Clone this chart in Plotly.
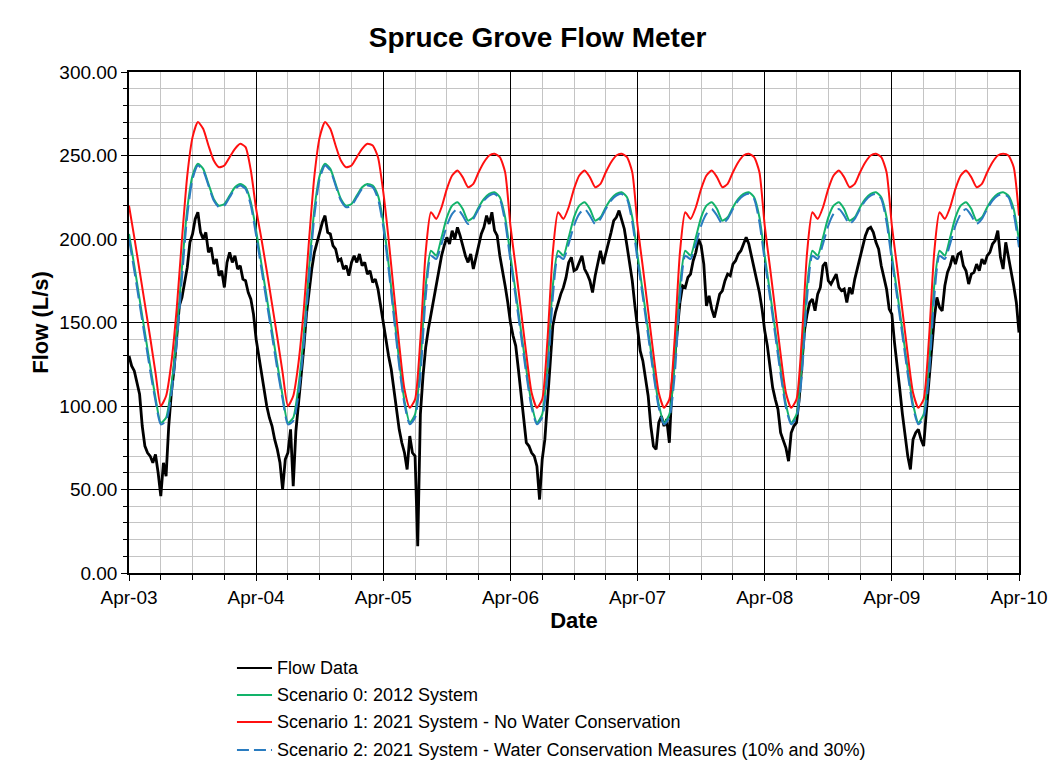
import pandas as pd
import plotly.graph_objects as go

# ---------------- data ----------------
title = "Spruce Grove Flow Meter"
start_date = "2013-04-03 00:00"
end_date = "2013-04-10 00:00"
tick_labels_fmt = "%b-%d"
series_names = [
    "Flow Data",
    "Scenario 0: 2012 System",
    "Scenario 1: 2021 System - No Water Conservation",
    "Scenario 2: 2021 System - Water Conservation Measures (10% and 30%)",
]

# Flow data, every 30 minutes (L/s)
flow_d1 = [130, 124, 121, 114, 107, 88, 76, 72, 70, 66, 71, 60, 46, 66, 58, 88, 108, 122, 140, 160, 165, 174, 183, 198,
           203, 212, 216, 204, 200, 204, 192, 195, 185, 188, 178, 181, 171, 186, 192, 186, 190, 182, 184, 176, 175, 168, 164, 155]
flow_d2 = [140, 130, 120, 112, 100, 93, 88, 80, 74, 66, 50, 68, 72, 86, 52, 85, 102, 116, 135, 155, 170, 182, 192, 198,
           205, 210, 214, 204, 203, 196, 194, 187, 188, 182, 184, 178, 186, 190, 186, 191, 184, 186, 179, 181, 174, 176, 170, 160]
flow_d3 = [148, 140, 130, 122, 110, 100, 86, 78, 72, 62, 82, 72, 70, 16, 95, 118, 135, 146, 155, 165, 172, 182, 190, 196,
           201, 197, 205, 200, 207, 202, 196, 190, 186, 191, 182, 189, 195, 203, 207, 214, 209, 216, 205, 202, 190, 182, 172, 162]
flow_d4 = [150, 142, 136, 122, 108, 95, 78, 76, 72, 70, 64, 44, 68, 80, 105, 128, 148, 156, 162, 167, 171, 177, 186, 189,
           181, 182, 186, 190, 182, 179, 175, 168, 178, 186, 193, 185, 191, 198, 204, 211, 213, 217, 211, 206, 196, 186, 175, 160]
flow_d5 = [145, 133, 127, 116, 106, 88, 76, 74, 90, 94, 88, 92, 78, 112, 130, 144, 162, 172, 171, 177, 179, 187, 192, 200,
           196, 185, 160, 166, 158, 153, 160, 167, 169, 175, 179, 178, 185, 187, 191, 193, 197, 201, 197, 190, 182, 176, 168, 158]
flow_d6 = [145, 136, 125, 111, 104, 98, 84, 80, 75, 67, 84, 88, 90, 104, 125, 145, 155, 162, 164, 157, 167, 171, 184, 186,
           175, 173, 176, 179, 171, 169, 170, 162, 171, 167, 176, 183, 189, 197, 202, 206, 207, 204, 198, 194, 184, 177, 170, 158]
flow_d7 = [155, 138, 122, 110, 95, 82, 70, 62, 80, 84, 86, 80, 76, 96, 115, 134, 152, 165, 159, 157, 172, 180, 184, 190,
           185, 191, 192, 184, 181, 173, 179, 180, 185, 181, 188, 185, 190, 192, 197, 199, 205, 189, 182, 198, 190, 181, 172, 162]
flow_end = [144]

# Scenario 0 (green), hourly
s0_d1 = [203, 184, 164, 144, 124, 105, 90, 93, 112, 143, 183, 218, 238, 245, 242, 233, 224, 220, 221, 226, 231, 233, 231, 222]
s0_d2 = [205, 185, 165, 145, 125, 106, 90, 93, 112, 143, 183, 218, 238, 245, 242, 233, 224, 220, 221, 226, 231, 233, 232, 226]
s0_d3 = [210, 185, 156, 127, 103, 90, 95, 125, 172, 193, 190, 201, 213, 220, 222, 218, 211, 213, 219, 224, 227, 228, 225, 213]
s0_d4 = [190, 168, 145, 122, 101, 90, 95, 125, 172, 193, 190, 201, 213, 220, 222, 218, 211, 213, 219, 224, 227, 228, 225, 213]
s0_d5 = [190, 168, 145, 122, 101, 90, 95, 125, 172, 193, 190, 201, 213, 220, 222, 218, 211, 213, 219, 224, 227, 228, 225, 213]
s0_d6 = [190, 168, 145, 122, 101, 90, 95, 125, 172, 193, 190, 201, 213, 220, 222, 218, 211, 213, 219, 224, 227, 228, 225, 213]
s0_d7 = [190, 168, 145, 122, 101, 90, 95, 125, 172, 193, 190, 201, 213, 220, 222, 218, 211, 213, 219, 224, 227, 228, 226, 218]
s0_end = [199]

# Scenario 1 (red), hourly
s1_d1 = [220, 201, 181, 161, 141, 120, 100, 106, 126, 158, 200, 238, 261, 270, 266, 256, 247, 243, 244, 249, 254, 257, 255, 241]
s1_d2 = [218, 200, 181, 161, 141, 120, 100, 106, 126, 158, 200, 238, 261, 270, 266, 256, 247, 243, 244, 249, 254, 257, 256, 249]
s1_d3 = [228, 200, 168, 137, 110, 99, 104, 140, 192, 216, 212, 219, 230, 238, 241, 237, 231, 233, 240, 246, 250, 251, 249, 240]
s1_d4 = [208, 183, 157, 131, 108, 99, 104, 140, 192, 216, 212, 219, 230, 238, 241, 237, 231, 233, 240, 246, 250, 251, 249, 240]
s1_d5 = [208, 183, 157, 131, 108, 99, 104, 140, 192, 216, 212, 219, 230, 238, 241, 237, 231, 233, 240, 246, 250, 251, 249, 240]
s1_d6 = [208, 183, 157, 131, 108, 99, 104, 140, 192, 216, 212, 219, 230, 238, 241, 237, 231, 233, 240, 246, 250, 251, 249, 240]
s1_d7 = [208, 183, 157, 131, 108, 99, 104, 140, 192, 216, 212, 219, 230, 238, 241, 237, 231, 233, 240, 246, 250, 251, 250, 243]
s1_end = [214]

# Scenario 2 (blue dashed), hourly
s2_d1 = [200, 181, 161, 141, 121, 103, 89, 91, 107, 137, 177, 214, 236, 244, 241, 232, 223, 219, 220, 225, 230, 232, 230, 220]
s2_d2 = [202, 182, 162, 142, 122, 104, 89, 91, 107, 137, 177, 214, 236, 244, 241, 232, 223, 219, 220, 225, 230, 232, 231, 224]
s2_d3 = [207, 182, 153, 124, 101, 89, 93, 118, 165, 190, 188, 197, 208, 215, 218, 214, 209, 212, 218, 223, 226, 227, 224, 210]
s2_d4 = [187, 165, 142, 119, 99, 89, 93, 118, 165, 190, 188, 197, 208, 215, 218, 214, 209, 212, 218, 223, 226, 227, 224, 210]
s2_d5 = [187, 165, 142, 119, 99, 89, 93, 118, 165, 190, 188, 197, 208, 215, 218, 214, 209, 212, 218, 223, 226, 227, 224, 210]
s2_d6 = [187, 165, 142, 119, 99, 89, 93, 118, 165, 190, 188, 197, 208, 215, 218, 214, 209, 212, 218, 223, 226, 227, 224, 210]
s2_d7 = [187, 165, 142, 119, 99, 89, 93, 118, 165, 190, 188, 197, 208, 215, 218, 214, 209, 212, 218, 223, 226, 227, 225, 215]
s2_end = [195]

flow = flow_d1 + flow_d2 + flow_d3 + flow_d4 + flow_d5 + flow_d6 + flow_d7 + flow_end
s0 = s0_d1 + s0_d2 + s0_d3 + s0_d4 + s0_d5 + s0_d6 + s0_d7 + s0_end
s1 = s1_d1 + s1_d2 + s1_d3 + s1_d4 + s1_d5 + s1_d6 + s1_d7 + s1_end
s2 = s2_d1 + s2_d2 + s2_d3 + s2_d4 + s2_d5 + s2_d6 + s2_d7 + s2_end

t_flow = pd.date_range(start_date, end_date, freq="30min")
t_hour = pd.date_range(start_date, end_date, freq="60min")

# ---------------- styles ----------------
FONT = "Liberation Sans, Arial, sans-serif"
colors = ["#000000", "#12b36a", "#ff1010", "#2a7cc0"]
widths = [2.8, 2, 2, 2]
dashes = ["solid", "solid", "solid", "16px,6px"]

fig = go.Figure()
fig.add_trace(go.Scatter(x=t_flow, y=flow, mode="lines", name=series_names[0], showlegend=False,
                         line=dict(color=colors[0], width=widths[0])))
fig.add_trace(go.Scatter(x=t_hour, y=s0, mode="lines", name=series_names[1], showlegend=False,
                         line=dict(color=colors[1], width=widths[1], shape="spline", smoothing=0.6)))
fig.add_trace(go.Scatter(x=t_hour, y=s1, mode="lines", name=series_names[2], showlegend=False,
                         line=dict(color=colors[2], width=widths[2], shape="spline", smoothing=0.6)))
fig.add_trace(go.Scatter(x=t_hour, y=s2, mode="lines", name=series_names[3], showlegend=False,
                         line=dict(color=colors[3], width=widths[3], dash=dashes[3], shape="spline", smoothing=0.6)))

# legend drawn below the plot (paper coordinates)
leg_x0, leg_x1, leg_tx = 0.1213, 0.1607, 0.1645
leg_y = [-0.1896, -0.2435, -0.2974, -0.3533]
legend_dashes = ["solid", "solid", "solid", "12px,5px"]
for i, name in enumerate(series_names):
    fig.add_shape(type="line", xref="paper", yref="paper", x0=leg_x0, x1=leg_x1, y0=leg_y[i], y1=leg_y[i],
                  line=dict(color=colors[i], width=2, dash=legend_dashes[i]))
    fig.add_annotation(xref="paper", yref="paper", x=leg_tx, y=leg_y[i], text=name, showarrow=False,
                       xanchor="left", yanchor="middle", font=dict(size=18, family=FONT, color="#000000"))

fig.update_layout(
    width=1054, height=766,
    margin=dict(l=129, r=35, t=72, b=193),
    paper_bgcolor="white", plot_bgcolor="white",
    font=dict(family=FONT, size=19, color="#000000"),
    title=dict(text="<b>" + title + "</b>", x=0.51, xanchor="center", y=0.951, yanchor="middle",
               font=dict(size=28, family=FONT, color="#000000")),
    showlegend=False,
)

fig.update_xaxes(
    type="date", range=[start_date, end_date],
    dtick=86400000, tick0=start_date, tickformat=tick_labels_fmt,
    showgrid=True, gridcolor="#000000", gridwidth=1,
    showline=True, linecolor="#000000", linewidth=1.5, mirror=True,
    ticks="outside", ticklen=6, tickcolor="#000000",
    tickfont=dict(size=19, family=FONT),
    minor=dict(dtick=21600000, showgrid=True, gridcolor="#c4c4c4", gridwidth=1.2,
               ticks="outside", ticklen=5, tickcolor="#000000"),
    title=dict(text="<b>Date</b>", font=dict(size=22, family=FONT), standoff=6),
    zeroline=False, automargin=False,
)
fig.update_yaxes(
    range=[0, 300], dtick=50, tick0=0, tickformat=".2f",
    showgrid=True, gridcolor="#000000", gridwidth=1,
    showline=True, linecolor="#000000", linewidth=1.5, mirror=True,
    ticks="outside", ticklen=6, tickcolor="#000000",
    tickfont=dict(size=19, family=FONT),
    minor=dict(dtick=10, showgrid=True, gridcolor="#c4c4c4", gridwidth=1.2,
               ticks="outside", ticklen=4, tickcolor="#000000"),
    title=dict(text="<b>Flow (L/s)</b>", font=dict(size=22, family=FONT), standoff=5),
    zeroline=False, automargin=False,
)

fig.write_html("out.html", config={"displayModeBar": False},
               post_script="document.body.style.margin='0';")
